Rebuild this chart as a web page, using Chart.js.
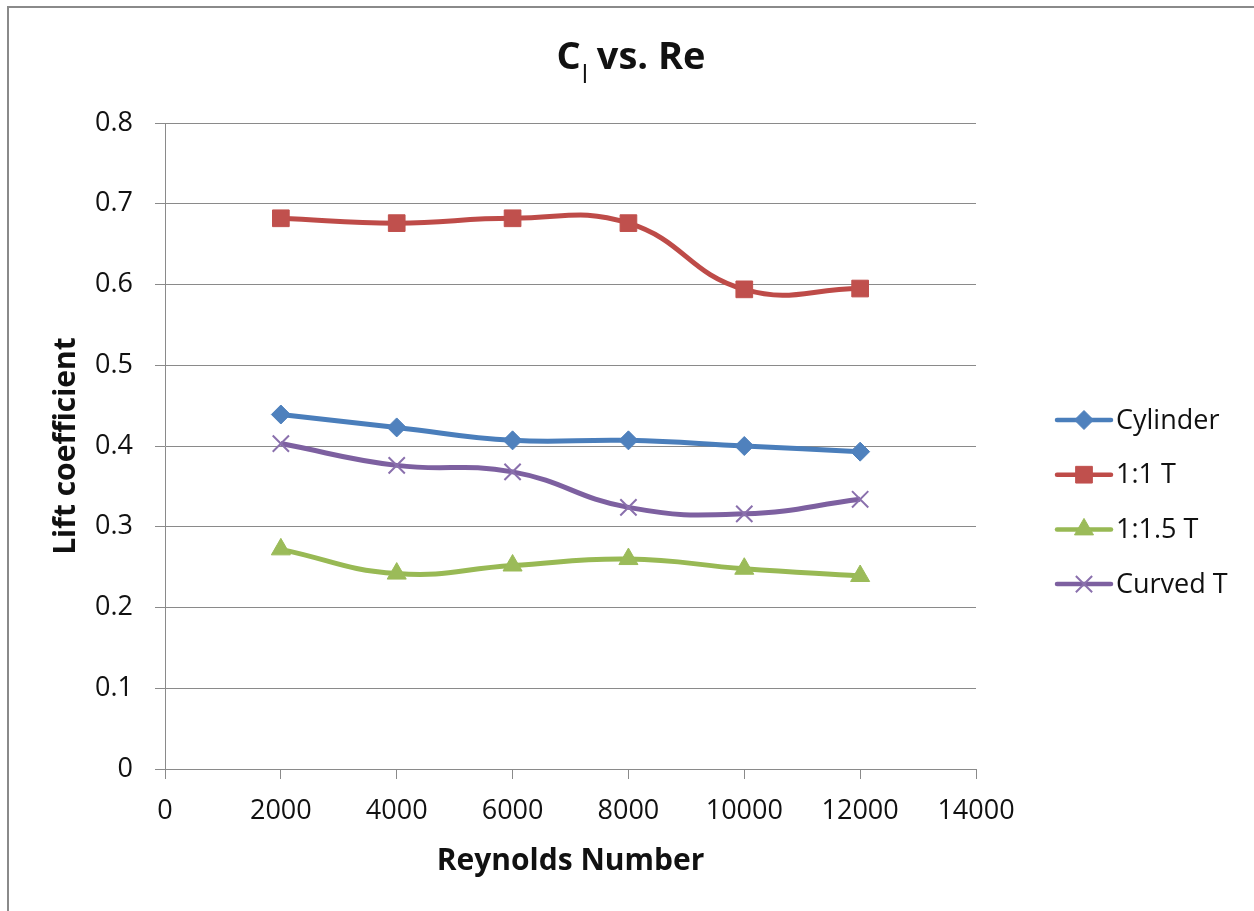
<!DOCTYPE html>
<html>
<head>
<meta charset="utf-8">
<title>Cl vs. Re</title>
<script src="https://cdn.jsdelivr.net/npm/chart.js@4.4.1/dist/chart.umd.min.js"></script>
<style>
  html, body { margin: 0; padding: 0; background: #ffffff; }
  canvas { display: block; }
</style>
</head>
<body>
<canvas id="chart" width="1254" height="911"></canvas>
<script>
// Reynolds numbers tested
const reynolds = [2000, 4000, 6000, 8000, 10000, 12000];

// Lift coefficient for each body shape
const cylinder = [0.439, 0.423, 0.407, 0.407, 0.400, 0.393];
const tee11    = [0.682, 0.676, 0.682, 0.676, 0.594, 0.595];
const tee115   = [0.272, 0.242, 0.252, 0.260, 0.248, 0.239];
const curvedT  = [0.403, 0.376, 0.368, 0.324, 0.316, 0.334];

const seriesNames = ['Cylinder', '1:1 T', '1:1.5 T', 'Curved T'];

// Axis tick labels
const xTickLabels = ['0', '2000', '4000', '6000', '8000', '10000', '12000', '14000'];
const yTickLabels = ['0', '0.1', '0.2', '0.3', '0.4', '0.5', '0.6', '0.7', '0.8'];

// Title pieces: main letter, subscript, remainder
const titleMain = 'C';
const titleSub = 'l';
const titleRest = ' vs. Re';
const xAxisTitle = 'Reynolds Number';
const yAxisTitle = 'Lift coefficient';

const FONT = '"Open Sans", "Noto Sans", sans-serif';
const GRID = '#8a8a8a';
const TEXT = '#111111';

function pts(values) {
  return values.map((v, i) => ({ x: reynolds[i], y: v }));
}

const styles = [
  { line: '#4a7ebb', fill: '#4f81bd', pointStyle: 'rectRot', radius: 9.5, bw: 1 },
  { line: '#be4b48', fill: '#c0504d', pointStyle: 'rect', radius: 11.8, bw: 1 },
  { line: '#98b954', fill: '#9bbb59', pointStyle: 'triangle', radius: 11, bw: 1 },
  { line: '#7d60a0', fill: '#8a70ad', pointStyle: 'crossRot', radius: 11.5, bw: 2 }
];
const seriesValues = [cylinder, tee11, tee115, curvedT];

const datasets = seriesValues.map((vals, i) => ({
  label: seriesNames[i],
  data: pts(vals),
  borderColor: styles[i].line,
  borderWidth: 5,
  tension: 0.45,
  pointStyle: styles[i].pointStyle,
  pointRadius: styles[i].radius,
  pointHoverRadius: styles[i].radius,
  pointBackgroundColor: styles[i].fill,
  pointBorderColor: styles[i].fill,
  pointBorderWidth: styles[i].bw,
  order: 3 - i
}));

// Thin frame around the whole chart
const framePlugin = {
  id: 'frame',
  beforeDraw(chart) {
    const ctx = chart.ctx;
    ctx.save();
    ctx.fillStyle = '#ffffff';
    ctx.fillRect(0, 0, chart.width, chart.height);
    ctx.strokeStyle = GRID;
    ctx.lineWidth = 2;
    ctx.strokeRect(8, 7, chart.width + 20, chart.height + 20);
    ctx.restore();
  }
};

// Title with a subscripted "l"
const titlePlugin = {
  id: 'subTitle',
  afterDraw(chart) {
    const ctx = chart.ctx;
    ctx.save();
    const mainFont = 'bold 38px ' + FONT;
    const subFont = '25px ' + FONT;
    ctx.font = mainFont;
    const wMain = ctx.measureText(titleMain).width;
    const wRest = ctx.measureText(titleRest).width;
    ctx.font = subFont;
    const wSub = ctx.measureText(titleSub).width;
    const total = wMain + wSub + wRest;
    const cx = 631;
    let x = cx - total / 2;
    const baseline = 69;
    ctx.fillStyle = TEXT;
    ctx.textBaseline = 'alphabetic';
    ctx.textAlign = 'left';
    ctx.font = mainFont;
    ctx.fillText(titleMain, x, baseline);
    x += wMain;
    ctx.font = subFont;
    ctx.fillText(titleSub, x + 1, baseline + 14);
    x += wSub;
    ctx.font = mainFont;
    ctx.fillText(titleRest, x, baseline);
    ctx.restore();
  }
};

// Legend: line sample with marker, then series name
const legendPlugin = {
  id: 'lineLegend',
  afterDraw(chart) {
    const ctx = chart.ctx;
    const x0 = 1057, x1 = 1111, textX = 1116;
    const top = 420, step = 54.7;
    ctx.save();
    chart.data.datasets.forEach((ds, i) => {
      const y = top + step * i;
      ctx.strokeStyle = ds.borderColor;
      ctx.lineWidth = 4.5;
      ctx.lineCap = 'round';
      ctx.beginPath();
      ctx.moveTo(x0, y);
      ctx.lineTo(x1, y);
      ctx.stroke();
      ctx.fillStyle = ds.pointBackgroundColor;
      ctx.strokeStyle = ds.pointBorderColor;
      ctx.lineWidth = ds.pointBorderWidth;
      ctx.lineCap = 'butt';
      Chart.helpers.drawPoint(ctx, {
        pointStyle: ds.pointStyle,
        radius: ds.pointRadius,
        rotation: 0,
        borderWidth: ds.pointBorderWidth
      }, (x0 + x1) / 2, y);
      ctx.fillStyle = TEXT;
      ctx.font = '27px ' + FONT;
      ctx.textAlign = 'left';
      ctx.textBaseline = 'middle';
      ctx.fillText(ds.label, textX, y + 1);
    });
    ctx.restore();
  }
};

function build() {
  new Chart(document.getElementById('chart'), {
    type: 'line',
    data: { datasets },
    plugins: [framePlugin, titlePlugin, legendPlugin],
    options: {
      responsive: false,
      animation: false,
      devicePixelRatio: 1,
      layout: { padding: { left: 0, top: 123, right: 278, bottom: 0 } },
      plugins: {
        legend: { display: false },
        title: { display: false },
        tooltip: { enabled: false }
      },
      scales: {
        x: {
          type: 'linear',
          min: 0,
          max: 14000,
          afterFit(scale) { scale.height = 142; },
          ticks: {
            stepSize: 2000,
            autoSkip: false,
            maxRotation: 0,
            padding: 16,
            color: TEXT,
            font: { family: FONT, size: 27 },
            callback: (value, index) => xTickLabels[index]
          },
          grid: {
            drawOnChartArea: false,
            drawTicks: true,
            tickLength: 10,
            color: GRID,
            lineWidth: 1
          },
          border: { display: true, color: GRID, width: 1 },
          title: {
            display: true,
            text: xAxisTitle,
            color: TEXT,
            font: { family: FONT, size: 30, weight: 'bold' },
            padding: { top: 0, bottom: 32 }
          }
        },
        y: {
          type: 'linear',
          min: 0,
          max: 0.8,
          afterFit(scale) { scale.width = 165; },
          ticks: {
            stepSize: 0.1,
            padding: 22,
            color: TEXT,
            font: { family: FONT, size: 27 },
            callback: (value, index) => yTickLabels[index]
          },
          grid: {
            drawTicks: true,
            tickLength: 10,
            color: GRID,
            lineWidth: 1
          },
          border: { display: true, color: GRID, width: 1 },
          title: {
            display: true,
            text: yAxisTitle,
            color: TEXT,
            font: { family: FONT, size: 30, weight: 'bold' },
            padding: { top: 48, bottom: 0 }
          }
        }
      }
    }
  });
}

Promise.all([
  document.fonts.load('27px "Open Sans"'),
  document.fonts.load('bold 38px "Open Sans"')
]).then(build, build);
</script>
</body>
</html>
